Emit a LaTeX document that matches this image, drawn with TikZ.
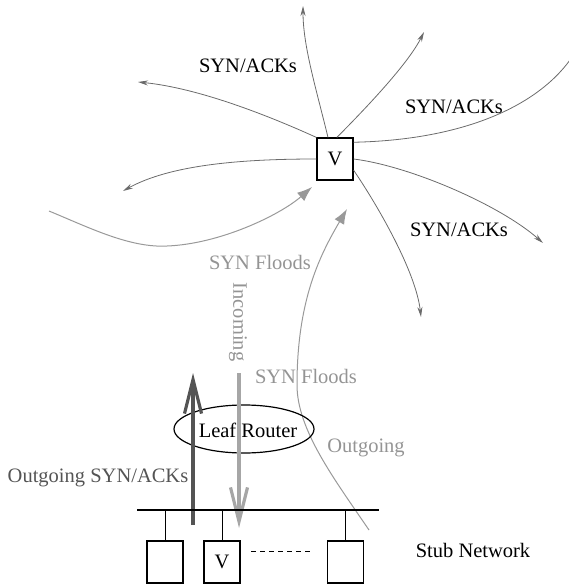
\documentclass[tikz,border=0pt]{standalone}
\usepackage{fontspec}
\setmainfont{Liberation Serif}
\usetikzlibrary{arrows.meta,shapes.geometric}
\definecolor{fanout}{gray}{0.42}
\definecolor{floodline}{gray}{0.6}
\definecolor{floodtext}{gray}{0.58}
\definecolor{upgray}{gray}{0.33}
\definecolor{downgray}{gray}{0.65}

\begin{document}
\begin{tikzpicture}[x=1pt,y=-1pt,>={Stealth[length=10pt,width=5pt]},
		font=\fontsize{20.5}{24}\selectfont]
		\tikzstyle{host}=[draw,line width=1.2pt,minimum width=36pt,minimum height=42pt,inner sep=0pt]
		\tikzstyle{synack}=[->,draw=fanout,line width=0.8pt]
		\tikzstyle{flood}=[-{Latex[length=15pt,width=11pt]},draw=floodline,line width=1pt]
		\tikzstyle{barb}=[-{Straight Barb[length=34pt,width=17pt]},line width=3.2pt]
		\useasboundingbox (0,0) rectangle (568,586);
		% victim and the SYN/ACKs it sends out
		\node[host]          (V)     at (335,159)  {V};
		\node                (lab1)  at (248,66)   {SYN/ACKs};
		\node                (lab2)  at (454,107)  {SYN/ACKs};
		\node                (lab3)  at (459,230)  {SYN/ACKs};
		\coordinate (ulE) at (138,82);  \coordinate (llE) at (123,191);
		\coordinate (upE) at (303,6);   \coordinate (urE) at (424,32);
		\coordinate (rE)  at (570,60);  \coordinate (lrE) at (543,243);
		\coordinate (dnE) at (421,317);
		\draw[synack] (V.north west) .. controls (267,115) and (198,88) .. (ulE);
		\draw[synack] (V.west) .. controls (240,159) and (170,165) .. (llE);
		\draw[synack] (V.108) .. controls (316,88) and (303,46) .. (upE);
		\draw[synack] (V.85) .. controls (372,102) and (409,62) .. (urE);
		\draw[synack,-] (V.42) .. controls (460,140) and (535,108) .. (rE);
		\draw[synack] (V.east) .. controls (410,166) and (500,205) .. (lrE);
		\draw[synack] (V.-31) .. controls (378,206) and (416,272) .. (dnE);
		% floods
		\node[text=floodtext]           (fl1) at (260,262) {SYN Floods};
		\node[text=floodtext,rotate=-90] (inc) at (238,322) {Incoming};
		\node[text=floodtext]           (fl2) at (306,376) {SYN Floods};
		\node[text=floodtext]           (og)  at (366,448) {Outgoing};
		\coordinate (inS) at (49,211);   \coordinate (inE) at (312,187);
		\coordinate (outS) at (369,530); \coordinate (outE) at (347,209);
		\draw[flood] (inS) .. controls (90,228) and (130,248) .. (167,246)
			.. controls (220,244) and (280,215) .. (inE);
		\draw[flood] (outS) .. controls (335,480) and (297,430) .. (297,385)
			.. controls (297,300) and (320,255) .. (outE);
		% leaf router and stub network
		\node[draw,ellipse,line width=1.2pt,minimum width=140pt,minimum height=48pt,inner sep=0pt]
			(LR) at (244,429) {};
		\node (LRt) at (248,430) {Leaf Router};
		\node[text=upgray] (osa) at (98,478) {Outgoing SYN/ACKs};
		\coordinate (upS) at (193,525); \coordinate (upT) at (193,373);
		\coordinate (dnS) at (239,373); \coordinate (dnT) at (239,528);
		\draw[barb,draw=upgray] (upS) -- (upT);
		\draw[barb,draw=downgray] (dnS) -- (dnT);
		\coordinate (busL) at (137,510); \coordinate (busR) at (379,510);
		\draw[line width=1.2pt] (busL) -- (busR);
		\node[host] (s1) at (165,562)   {};
		\node[host] (s2) at (222,562)   {V};
		\node[host] (s3) at (345.5,562) {};
		\foreach \h in {s1,s2,s3}
			\draw[line width=0.8pt] (\h.north) -- (\h.north |- busL);
		\coordinate (dashL) at (251,551); \coordinate (dashR) at (312,551);
		\draw[line width=0.8pt,dash pattern=on 5pt off 4pt] (dashL) -- (dashR);
		\node (stub) at (473,550) {Stub Network};
	\end{tikzpicture}
\end{document}
